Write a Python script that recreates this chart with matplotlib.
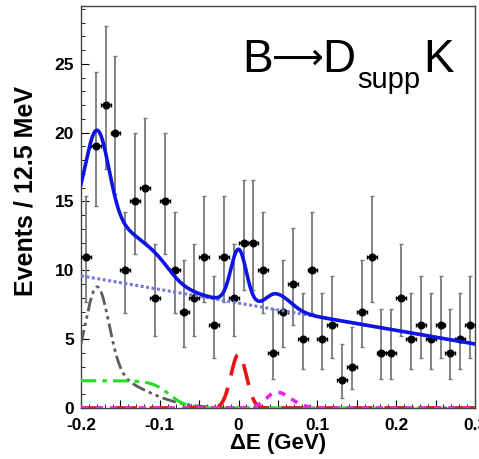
import math
import numpy as np
import matplotlib
matplotlib.use("Agg")
import matplotlib.pyplot as plt
from matplotlib.ticker import MultipleLocator, FuncFormatter

plt.rcParams['font.family'] = ['Liberation Sans', 'DejaVu Sans']
plt.rcParams['font.weight'] = 'bold'

# delta E histogram, 40 bins of 12.5 MeV from -0.2 to 0.3 GeV
edges = np.linspace(-0.2, 0.3, 41)
counts = [11, 19, 22, 20, 10, 15, 16, 8, 15, 10,
          7, 8, 11, 6, 11, 8, 12, 12, 10, 4,
          7, 9, 5, 10, 5, 6, 2, 3, 7, 11,
          4, 4, 8, 5, 6, 5, 6, 4, 5, 6]

# fit components (parameters of the projected pdfs)
bkg_lo, bkg_hi = 9.6, 4.65            # continuum at -0.2 and 0.3 GeV
peak_mean, peak_a1, peak_s1, peak_a2, peak_s2 = -0.1795, 6.35, 0.0147, 2.45, 0.0535
shelf_amp, shelf_edge, shelf_w = 1.98, -0.088, 0.011
sig_mean, sig_amp, sig_sigma = 0.0, 3.9, 0.0098
dpi_mean, dpi_amp, dpi_sl, dpi_sr = 0.048, 1.15, 0.013, 0.018


def pois_cdf(n, mu):
    if mu <= 0:
        return 1.0
    return sum(math.exp(-mu + k * math.log(mu) - math.lgamma(k + 1)) for k in range(n + 1))


def solve(f, target, lo=0.0, hi=100.0):
    # f decreasing in mu
    for _ in range(80):
        mid = 0.5 * (lo + hi)
        if f(mid) > target:
            lo = mid
        else:
            hi = mid
    return 0.5 * (lo + hi)


alpha = (1 - 0.6827) / 2
err_lo, err_hi = [], []
for n in counts:
    lo = 0.0 if n == 0 else solve(lambda m: pois_cdf(n - 1, m), 1 - alpha)
    hi = solve(lambda m: pois_cdf(n, m), alpha)
    err_lo.append(n - lo)
    err_hi.append(hi - n)

centers = 0.5 * (edges[:-1] + edges[1:])
half = 0.5 * (edges[1] - edges[0])

x = np.linspace(-0.2, 0.3, 1200)
bkg = bkg_lo + (bkg_hi - bkg_lo) * (x + 0.2) / 0.5
peak = (peak_a1 * np.exp(-0.5 * ((x - peak_mean) / peak_s1) ** 2)
        + peak_a2 * np.exp(-0.5 * ((x - peak_mean) / peak_s2) ** 2))
shelf = shelf_amp / (1 + np.exp((x - shelf_edge) / shelf_w))
sig = sig_amp * np.exp(-0.5 * ((x - sig_mean) / sig_sigma) ** 2)
dsig = np.where(x < dpi_mean, dpi_sl, dpi_sr)
dpi = dpi_amp * np.exp(-0.5 * ((x - dpi_mean) / dsig) ** 2)
total = bkg + peak + shelf + sig + dpi

fig = plt.figure(figsize=(4.79, 4.59), dpi=100)
ax = fig.add_axes([81 / 479, 1 - 408 / 459, 394 / 479, 402 / 459])

ax.errorbar(centers, counts, yerr=[err_lo, err_hi], fmt='none', ecolor='#7a7a7a',
            elinewidth=1.3, capsize=1.6, capthick=1.0, zorder=2)
ax.errorbar(centers, counts, xerr=half, fmt='o', color='black', ms=4.8,
            elinewidth=1.2, capsize=1.6, capthick=1.0, zorder=3)

ax.plot(x, peak, color='#5c5c5c', lw=2.0, dashes=(5, 1.5, 1.2, 1.5, 1.2, 1.5), zorder=4)
ax.plot(x, shelf, color='#22dd22', lw=2.2, dashes=(5, 2, 1.5, 2), zorder=4)
ax.plot(x, sig, color='#ee1111', lw=2.6, dashes=(6, 3.5), zorder=4)
ax.plot(x, dpi, color='#ee22ee', lw=2.6, dashes=(2, 2), zorder=4)
ax.plot(x, bkg, color='#7878d8', lw=2.2, dashes=(1, 0.8), zorder=4)
ax.plot(x, total, color='#0f14e6', lw=2.6, zorder=5)

ax.set_xlim(-0.2, 0.3)
ax.set_ylim(0, 29.2)

ax.xaxis.set_major_locator(MultipleLocator(0.05))
ax.xaxis.set_minor_locator(MultipleLocator(0.01))
ax.yaxis.set_major_locator(MultipleLocator(5))
ax.yaxis.set_minor_locator(MultipleLocator(1))


def xfmt(v, pos):
    k = round(v * 10, 6)
    if abs(k - round(k)) > 1e-6:
        return ''
    return '0' if round(k) == 0 else '%.1f' % v


ax.xaxis.set_major_formatter(FuncFormatter(xfmt))
ax.tick_params(which='both', direction='in', top=False, right=False, labelsize=12.5)
ax.tick_params(axis='x', which='major', length=5.5, pad=7)
ax.tick_params(axis='y', which='major', length=6, pad=5)
ax.tick_params(which='minor', length=3)
for s in ax.spines.values():
    s.set_color('#444444')
    s.set_linewidth(1.0)

ax.set_xlabel('ΔE (GeV)', fontsize=16, fontweight='bold')
ax.set_ylabel('Events / 12.5 MeV', fontsize=18, fontweight='bold')
ax.xaxis.set_label_coords(0.5, -0.062)
ax.yaxis.set_label_coords(-0.110, 0.54)

# decay label, pieces placed in figure pixels
W, H = 479, 459
fig.text(242 / W, 1 - 72 / H, 'B', fontsize=33, fontweight='normal', va='baseline')
fig.text(271.5 / W, 1 - 69.2 / H, '⟶', fontsize=26, fontweight='normal', va='baseline')
fig.text(322 / W, 1 - 72 / H, 'D', fontsize=33, fontweight='normal', va='baseline')
fig.text(357 / W, 1 - 88 / H, 'supp', fontsize=21, fontweight='normal', va='baseline')
fig.text(423 / W, 1 - 72 / H, 'K', fontsize=33, fontweight='normal', va='baseline')

fig.savefig('out.png', dpi=100)
